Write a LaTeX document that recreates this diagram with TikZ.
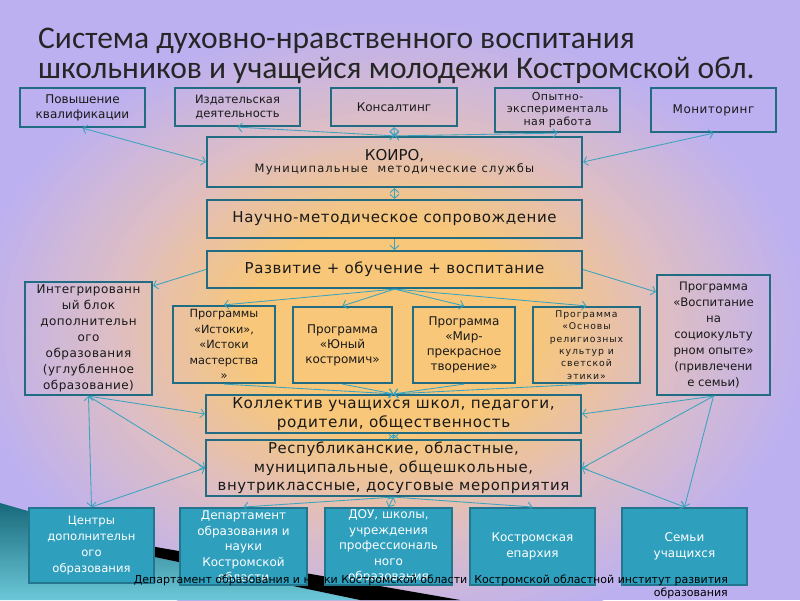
\documentclass[tikz,border=0pt]{standalone}
\usepackage{fontspec}
\setmainfont{DejaVu Sans}
\newfontfamily\lsp[LetterSpace=10]{DejaVu Sans}
\newfontfamily\msp[LetterSpace=4]{DejaVu Sans}
\newfontfamily\ttl{Carlito}
\usetikzlibrary{arrows.meta,calc}
\definecolor{bord}{HTML}{216C82}
\definecolor{ln}{HTML}{3AA3BE}
\definecolor{bfill}{HTML}{2E9FBD}
\definecolor{orc}{HTML}{F8C779}
\definecolor{pkc}{HTML}{DDBDC6}
\definecolor{lavc}{HTML}{BCB0F0}
\definecolor{tdark}{HTML}{17697A}
\definecolor{tlight}{HTML}{6CC8D8}
\tikzset{
  tbox/.style={draw=bord, line width=2.2pt, inner sep=1pt, align=center, text=black!90, font=\fontsize{12}{15}\selectfont},
  mbox/.style={draw=bord, line width=2.2pt, inner sep=1pt, align=center, text=black!90},
  bbox/.style={draw=bord!80!bfill, fill=bfill, line width=2pt, inner sep=1pt, align=center, text=white, font=\fontsize{12}{15.5}\selectfont},
  conn/.style={draw=ln, line width=0.85pt},
  >={Straight Barb[length=4pt,width=9pt]}
}
\begin{document}
\begin{tikzpicture}[x=1pt,y=-1pt]
\useasboundingbox (0,0) rectangle (800,600);
% background: radial blend lavender -> pink -> orange
\begin{scope}
\clip (0,0) rectangle (800,600);
\fill[lavc] (0,0) rectangle (800,600);
\foreach \i in {0,...,15}{
  \pgfmathsetmacro\rr{0.92-0.02*\i}
  \pgfmathsetmacro\pp{100*\i/15}
  \fill[pkc!\pp!lavc] (390,330) ellipse [x radius={460*\rr}, y radius={340*\rr}];
}
\foreach \i in {1,...,15}{
  \pgfmathsetmacro\rr{0.62-0.02*\i}
  \pgfmathsetmacro\pp{100*\i/15}
  \fill[orc!\pp!pkc] (390,330) ellipse [x radius={460*\rr}, y radius={340*\rr}];
}
\end{scope}
% bottom-left decoration
\shade[top color=tdark, bottom color=tlight] (0,503) -- (150,546) -- (150,556) -- (360,600) -- (0,600) -- cycle;
\fill[black] (150,546) -- (460,600) -- (360,600) -- (150,556) -- cycle;

% title
\node[anchor=base west, inner sep=0, font=\ttl\fontsize{31.5}{32}\selectfont, text=black!85] (t1) at (38,48) {Система духовно-нравственного воспитания};
\node[anchor=base west, inner sep=0, font=\ttl\fontsize{31.5}{32}\selectfont, text=black!85] (t2) at (38,78) {школьников и учащейся молодежи Костромской обл.};

% top row
\node[tbox, minimum width=125, minimum height=39] (pk) at (82.5,107.5) {Повышение\\квалификации};
\node[tbox, minimum width=125, minimum height=38, font=\fontsize{11.5}{14.5}\selectfont] (izd) at (237.5,107) {Издательская\\деятельность};
\node[tbox, minimum width=126, minimum height=38] (kons) at (394,107) {Консалтинг};
\node[tbox, minimum width=125, minimum height=44, font=\msp\fontsize{11}{12.5}\selectfont] (opyt) at (557.5,110) {Опытно-\\эксперименталь\\ная работа};
\node[tbox, minimum width=125, minimum height=44, font=\msp\fontsize{12}{15}\selectfont] (mon) at (713.5,110) {Мониторинг};

% central column
\node[mbox, minimum width=375, minimum height=50] (koiro) at (394.5,162) {{\fontsize{15}{17}\selectfont КОИРО,}\\{\lsp\fontsize{11.5}{13}\selectfont Муниципальные\ \ методические службы}};
\node[mbox, minimum width=375, minimum height=38, font=\msp\fontsize{15}{18}\selectfont] (nauch) at (394.5,219) {Научно-методическое сопровождение};
\node[mbox, minimum width=375, minimum height=37, font=\msp\fontsize{15}{18}\selectfont] (razv) at (394.5,269.5) {Развитие + обучение + воспитание};

% side blocks
\node[tbox, minimum width=127, minimum height=113, font=\msp\fontsize{12}{16}\selectfont] (integ) at (88.5,338.5) {Интегрированн\\ый блок\\дополнительн\\ого\\образования\\(углубленное\\образование)};
\node[tbox, minimum width=113, minimum height=120, font=\fontsize{11.7}{16}\selectfont] (vosp) at (713.5,335) {Программа\\«Воспитание\\на\\социокульту\\рном опыте»\\(привлечени\\е семьи)};

% programs
\node[tbox, minimum width=102, minimum height=77, font=\fontsize{11.3}{15.5}\selectfont] (ist) at (224,344.5) {Программы\\«Истоки»,\\«Истоки\\мастерства\\»};
\node[tbox, minimum width=99, minimum height=76] (yun) at (342.5,345) {Программа\\«Юный\\костромич»};
\node[tbox, minimum width=102, minimum height=76] (mir) at (464,345) {Программа\\«Мир-\\прекрасное\\творение»};
\node[tbox, minimum width=107, minimum height=76, font=\lsp\fontsize{9.3}{12.3}\selectfont] (osn) at (586.5,345) {Программа\\«Основы\\религиозных\\культур и\\светской\\этики»};

\node[mbox, minimum width=375, minimum height=38, font=\msp\fontsize{15.2}{19}\selectfont] (kol) at (393.5,414) {Коллектив учащихся школ, педагоги,\\родители, общественность};
\node[mbox, minimum width=375, minimum height=56, font=\msp\fontsize{14.9}{18.5}\selectfont] (resp) at (393.5,468) {Республиканские, областные,\\муниципальные, общешкольные,\\внутриклассные, досуговые мероприятия};

% bottom row
\node[bbox, minimum width=125, minimum height=75, font=\fontsize{11.6}{16}\selectfont] (cent) at (91.5,545.5) {Центры\\дополнительн\\ого\\образования};
\node[bbox, minimum width=127, minimum height=77] (dep) at (243.5,546.5) {Департамент\\образования и\\науки\\Костромской\\области};
\node[bbox, minimum width=127, minimum height=77] (dou) at (388.5,546.5) {ДОУ, школы,\\учреждения\\профессиональ\\ного\\образования};
\node[bbox, minimum width=125, minimum height=77] (epar) at (532.5,546.5) {Костромская\\епархия};
\node[bbox, minimum width=125, minimum height=77] (sem) at (684.5,546.5) {Семьи\\учащихся};

% footer
\node[anchor=north east, inner sep=0, align=right, font=\fontsize{11}{13}\selectfont, text=black] (foot) at (728,575) {Департамент образования и науки Костромской области\ \ Костромской областной институт развития\\образования};

% connectors top
\draw[conn,<->] (pk.south) -- (koiro.west);
\draw[conn,<->] (izd.south) -- (koiro.north);
\draw[conn,<->] (kons.south) -- (koiro.north);
\draw[conn,<->] (opyt.south) -- (koiro.north);
\draw[conn,<->] (mon.south) -- (koiro.east);
\draw[conn,<->] (koiro.south) -- (nauch.north);
\draw[conn,->] (nauch.south) -- (razv.north);
\draw[conn,->] (razv.west) -- ($(integ.north east)+(0,5)$);
\draw[conn,->] (razv.east) -- ($(vosp.north west)+(0,18)$);
\draw[conn,->] (razv.south) -- (ist.north);
\draw[conn,->] (razv.south) -- (yun.north);
\draw[conn,->] (razv.south) -- (mir.north);
\draw[conn,->] (razv.south) -- (osn.north);
\draw[conn,->] (ist.south) -- (kol.north);
\draw[conn,->] (yun.south) -- (kol.north);
\draw[conn,->] (mir.south) -- (kol.north);
\draw[conn,->] (osn.south) -- (kol.north);
\draw[conn,<->] (kol.south) -- (resp.north);
% left side
\draw[conn,<->] (integ.south) -- (cent.north);
\draw[conn,->] (integ.south) -- (kol.west);
\draw[conn,->] (integ.south) -- (resp.west);
\draw[conn,->] (cent.north) -- (resp.west);
% right side
\draw[conn,->] (vosp.south) -- (kol.east);
\draw[conn,->] (vosp.south) -- (resp.east);
\draw[conn,->] (vosp.south) -- (sem.north);
\draw[conn,<->] (resp.east) -- (sem.north);
% bottom
\draw[conn,->] (resp.south) -- (dep.north);
\draw[conn,<->] (resp.south) -- (dou.north);
\draw[conn,->] (resp.south) -- (epar.north);
\end{tikzpicture}
\end{document}
